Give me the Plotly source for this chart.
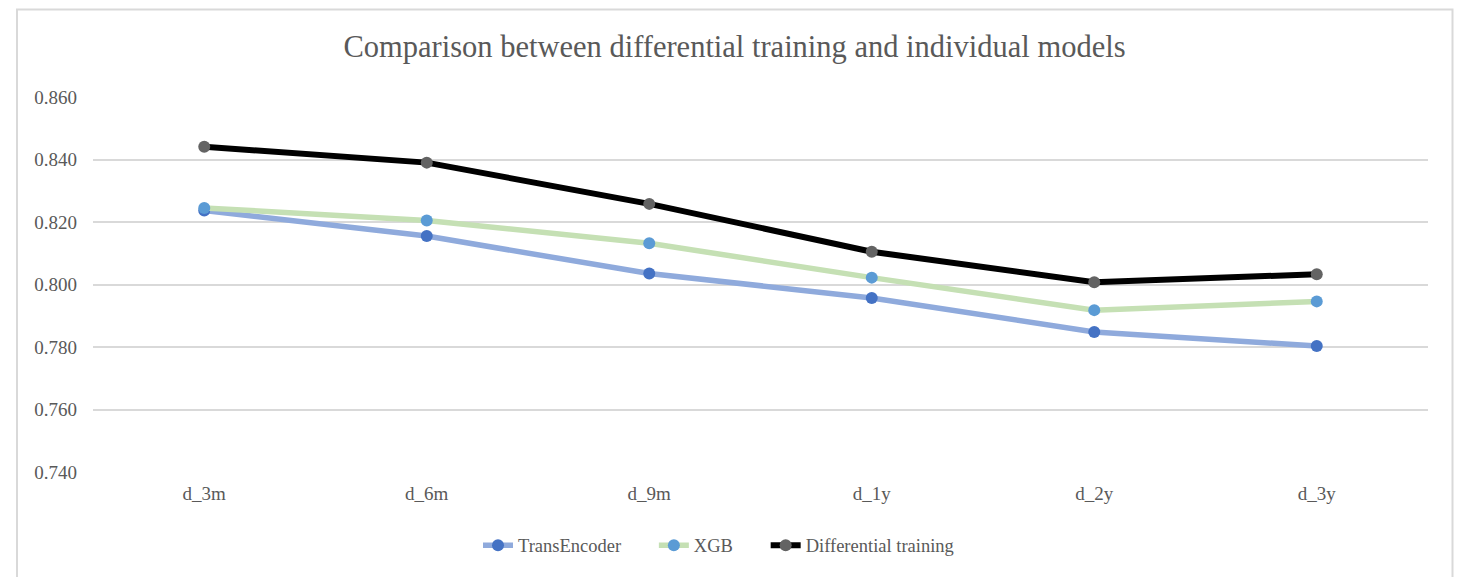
import plotly.graph_objects as go

categories = ["d_3m", "d_6m", "d_9m", "d_1y", "d_2y", "d_3y"]
trans_encoder = [0.8237, 0.8155, 0.8035, 0.7957, 0.7848, 0.7803]
xgb = [0.8245, 0.8205, 0.8132, 0.8022, 0.7918, 0.7946]
differential = [0.8441, 0.8390, 0.8258, 0.8105, 0.8007, 0.8033]
y_ticks = [0.74, 0.76, 0.78, 0.80, 0.82, 0.84, 0.86]
y_tick_labels = ["0.740", "0.760", "0.780", "0.800", "0.820", "0.840", "0.860"]

# page body has an 8px margin; work in figure pixels = screen - 8
OFF = 8
W, H = 1465 - OFF, 577 - OFF
ML, MR, MT, MB = 85, 37, 89, 103
PW, PH = W - ML - MR, H - MT - MB

def px_to_paper_x(sx):
    return (sx - OFF - ML) / PW

def px_to_paper_y(sy):
    return (H - MB - (sy - OFF)) / PH

fig = go.Figure()
pad = "\u00a0" * 6
series = [
    ("TransEncoder" + pad, trans_encoder, "#8FAADC", "#4472C4", 5.5),
    ("XGB" + pad, xgb, "#C5E0B4", "#5B9BD5", 5.5),
    ("Differential training", differential, "#000000", "#636363", 6),
]
for name, vals, lc, mc, lw in series:
    fig.add_trace(go.Scatter(
        x=categories, y=vals, name=name, mode="lines+markers",
        line=dict(color=lc, width=lw),
        marker=dict(color=mc, size=12),
    ))

font_family = "Liberation Serif, Times New Roman, serif"

fig.update_layout(
    width=W, height=H,
    margin=dict(l=ML, r=MR, t=MT, b=MB),
    paper_bgcolor="white", plot_bgcolor="white",
    font=dict(family=font_family, color="#595959", size=18),
    title=dict(
        text="Comparison between differential training and individual models",
        x=(734.5 - OFF) / W, xref="container", xanchor="center",
        y=1 - (46 - OFF) / H, yref="container", yanchor="middle",
        font=dict(family=font_family, size=30.5, color="#595959"),
    ),
    xaxis=dict(
        type="category", range=[-0.5, 5.5],
        showgrid=False, zeroline=False, showline=False,
        ticks="", ticklabelstandoff=8,
        tickfont=dict(size=19, color="#595959"),
    ),
    yaxis=dict(
        range=[0.74, 0.86], tickvals=y_ticks, ticktext=y_tick_labels,
        showgrid=True, gridcolor="#D9D9D9", gridwidth=2,
        zeroline=False, showline=False, ticks="", ticklabelstandoff=15,
        tickfont=dict(size=19, color="#595959"),
    ),
    legend=dict(
        orientation="h", x=px_to_paper_x(718.5), xanchor="center",
        y=px_to_paper_y(548), yanchor="middle",
        font=dict(size=18.5, color="#595959"),
    ),
    shapes=[dict(
        type="rect", xref="paper", yref="paper",
        x0=px_to_paper_x(17), x1=px_to_paper_x(1452.5),
        y0=px_to_paper_y(600), y1=px_to_paper_y(9),
        line=dict(color="#D9D9D9", width=2), fillcolor="rgba(0,0,0,0)",
        layer="below",
    )],
)

fig.write_html("out.html")
